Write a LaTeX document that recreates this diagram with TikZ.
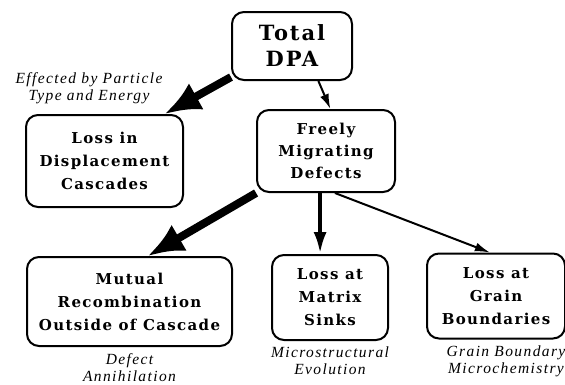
\documentclass[tikz,border=0pt]{standalone}
\usepackage{fontspec}
\setmainfont{DejaVu Serif}
\newfontfamily\boxfont[LetterSpace=9]{DejaVu Serif}
\newfontfamily\notefont[LetterSpace=9]{Liberation Serif}
\usetikzlibrary{positioning,arrows.meta}

\begin{document}
\begin{tikzpicture}[x=1pt,y=-1pt]
 \tikzset{stage/.style={draw,line width=2pt,rounded corners=12pt,align=center,inner sep=0pt,
   font=\boxfont\bfseries\fontsize{15}{23}\selectfont},
  note/.style={align=center,inner sep=0pt,font=\notefont\itshape\fontsize{15.5}{17}\selectfont},
  bigarrow/.style={line width=8pt,-{Latex[length=36pt,width=30pt]}},
  midarrow/.style={line width=4pt,-{Latex[length=22pt,width=13pt]}},
  thinarrow/.style={line width=2pt,-{Latex[length=15pt,width=9pt]}}}
 \useasboundingbox (0,0) rectangle (565,384);

 \node[stage,minimum width=120pt,minimum height=68pt,font=\boxfont\bfseries\fontsize{21}{26}\selectfont] (total) at (292,46) {Total\\DPA};
 \node[stage,minimum width=157pt,minimum height=92pt] (loss) at (104.5,161) {Loss in\\Displacement\\Cascades};
 \node[stage,minimum width=138pt,minimum height=82pt,font=\boxfont\bfseries\fontsize{15}{22}\selectfont] (freely) at (326,151) {Freely\\Migrating\\Defects};
 \node[stage,minimum width=205pt,minimum height=89pt] (mutual) at (129.5,301.5) {Mutual\\Recombination\\Outside of Cascade};
 \node[stage,minimum width=116pt,minimum height=85pt] (matrix) at (330,297.5) {Loss at\\Matrix\\Sinks};
 \node[stage,minimum width=138pt,minimum height=85pt] (grain) at (496,296) {Loss at\\Grain\\Boundaries};

 \node[note] (effect) at (89,88) {Effected by Particle\\Type and Energy};
 \node[note,below=6pt of mutual] (annih) {Defect\\Annihilation};
 \node[note,below=6pt of matrix] (micro) {Microstructural\\Evolution};
 \node[note,below=6pt of grain,xshift=10pt] (chem) {Grain Boundary\\Microchemistry};

 \draw[bigarrow] (total.207) -- (loss.38);
 \draw[thinarrow] (total.-53) -- (freely.84);
 \draw[bigarrow] (freely.211) -- (mutual.68);
 \draw[midarrow] (freely.-98) -- (freely.-98 |- matrix.north);
 \draw[thinarrow] (freely.-78) -- (grain.98);
\end{tikzpicture}
\end{document}
